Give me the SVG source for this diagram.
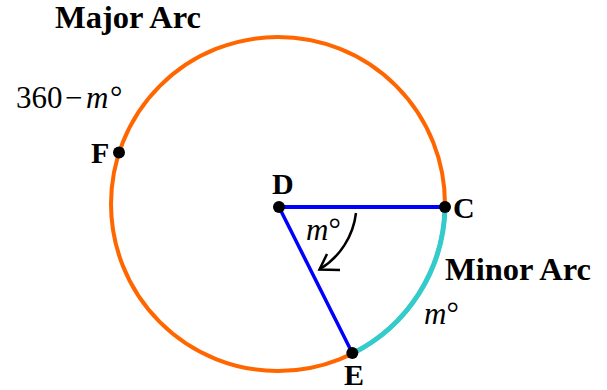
<svg xmlns="http://www.w3.org/2000/svg" width="607" height="390" viewBox="0 0 607 390">
<style>
.t{font-family:"Liberation Serif","Times New Roman",serif;font-size:31px;fill:#000}
.b{font-weight:bold;font-size:32.5px}
.lb{font-family:"Liberation Serif","Times New Roman",serif;font-size:30px;font-weight:bold;fill:#000}
.i{font-style:italic}
.dot{fill:#000}
</style>
<rect width="607" height="390" fill="#fff"/>
<g id="circle">
<circle cx="278" cy="204" r="167" fill="none" stroke="#FF6600" stroke-width="4"/>
</g>
<g id="minor-arc">
<path d="M445 207 A167 167 0 0 1 352.3 353.5" fill="none" stroke="#33CCCC" stroke-width="5"/>
</g>
<g id="connectors">
<line x1="279" y1="207" x2="445" y2="207" stroke="#0000FF" stroke-width="4"/>
<line x1="279" y1="207" x2="352.3" y2="353" stroke="#0000FF" stroke-width="3.5"/>
<path d="M356 213 A76 76 0 0 1 320 269" fill="none" stroke="#000" stroke-width="2.5"/>
<polyline points="327,254 319.5,269.5 340,270" fill="none" stroke="#000" stroke-width="2.5" stroke-linejoin="miter"/>
</g>
<g id="D"><circle class="dot" cx="279" cy="207" r="6"/><text class="lb" x="272" y="194">D</text></g>
<g id="C"><circle class="dot" cx="445" cy="207" r="6"/><text class="lb" x="453" y="218">C</text></g>
<g id="E"><circle class="dot" cx="352.3" cy="353" r="6"/><text class="lb" x="344" y="385" font-size="29">E</text></g>
<g id="F"><circle class="dot" cx="119" cy="152.5" r="6"/><text class="lb" x="91" y="163">F</text></g>
<g id="labels">
<text class="t b" x="55" y="28">Major Arc</text>
<text class="t b" x="445" y="280">Minor Arc</text>
<text class="t" y="108"><tspan x="16">360</tspan><tspan x="65">−</tspan><tspan x="86" class="i">m</tspan><tspan x="110">°</tspan></text>
<text class="t" y="240"><tspan x="306" class="i">m</tspan><tspan>°</tspan></text>
<text class="t" y="324"><tspan x="424" class="i">m</tspan><tspan>°</tspan></text>
</g>
</svg>
